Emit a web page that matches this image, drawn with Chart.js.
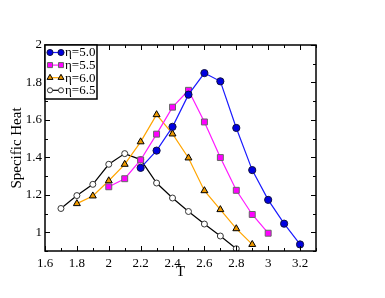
<!DOCTYPE html>
<html>
<head>
<meta charset="utf-8">
<script src="https://cdn.jsdelivr.net/npm/chart.js@4.4.0/dist/chart.umd.min.js"></script>
<style>
  body { margin: 0; background: #fff; }
  canvas { display: block; }
</style>
</head>
<body>
<canvas id="heat-chart" width="385" height="298"></canvas>
<script>
// specific heat vs temperature

var t50 = [2.2, 2.3, 2.4, 2.5, 2.6, 2.7, 2.8, 2.9, 3.0, 3.1, 3.2];
var c50 = [1.344, 1.436, 1.563, 1.735, 1.85, 1.806, 1.557, 1.332, 1.173, 1.046, 0.935];

var t55 = [2.0, 2.1, 2.2, 2.3, 2.4, 2.5, 2.6, 2.7, 2.8, 2.9, 3.0];
var c55 = [1.243, 1.286, 1.386, 1.524, 1.668, 1.758, 1.589, 1.399, 1.224, 1.095, 0.995];

var t60 = [1.8, 1.9, 2.0, 2.1, 2.2, 2.3, 2.4, 2.5, 2.6, 2.7, 2.8, 2.9];
var c60 = [1.153, 1.194, 1.275, 1.363, 1.483, 1.628, 1.525, 1.397, 1.222, 1.121, 1.019, 0.935];

var t65 = [1.7, 1.8, 1.9, 2.0, 2.1, 2.2, 2.3, 2.4, 2.5, 2.6, 2.7, 2.8];
var c65 = [1.127, 1.196, 1.256, 1.363, 1.42, 1.388, 1.263, 1.183, 1.111, 1.044, 0.98, 0.912];

var xTicks = [1.6, 1.8, 2, 2.2, 2.4, 2.6, 2.8, 3, 3.2];
var yTicks = [1, 1.2, 1.4, 1.6, 1.8, 2];

function pts(xs, ys) {
	return xs.map(function (x, i) { return {x: x, y: ys[i]}; });
}

var serif = '"Liberation Serif", "DejaVu Serif", serif';

// inward ticks on all four sides, box, axis titles, legend
var framePlugin = {
	id: 'frame',
	afterDraw: function (chart) {
		var ctx = chart.ctx, a = chart.chartArea;
		var xs = chart.scales.x, ys = chart.scales.y;
		ctx.save();
		ctx.strokeStyle = '#000';
		ctx.lineWidth = 1.5;
		ctx.strokeRect(a.left, a.top, a.right - a.left, a.bottom - a.top);

		ctx.lineWidth = 1;
		ctx.beginPath();
		for (var v = xs.min; v <= xs.max + 1e-6; v += 0.1) {
			var major = Math.abs(v * 5 - Math.round(v * 5)) < 1e-6;
			var len = major ? 5 : 3;
			var px = Math.round(xs.getPixelForValue(v)) + 0.5;
			ctx.moveTo(px, a.bottom); ctx.lineTo(px, a.bottom - len);
			ctx.moveTo(px, a.top); ctx.lineTo(px, a.top + len);
		}
		for (var w = ys.min; w <= ys.max + 1e-6; w += 0.1) {
			var majorY = Math.abs(w * 5 - Math.round(w * 5)) < 1e-6;
			var lenY = majorY ? 5 : 3;
			var py = Math.round(ys.getPixelForValue(w)) + 0.5;
			ctx.moveTo(a.left, py); ctx.lineTo(a.left + lenY, py);
			ctx.moveTo(a.right, py); ctx.lineTo(a.right - lenY, py);
		}
		ctx.stroke();

		// axis titles
		ctx.fillStyle = '#000';
		ctx.font = '15px ' + serif;
		ctx.textAlign = 'center';
		ctx.textBaseline = 'middle';
		ctx.fillText('T', (a.left + a.right) / 2, 272);
		ctx.translate(17, (a.top + a.bottom) / 2);
		ctx.rotate(-Math.PI / 2);
		ctx.fillText('Specific Heat', 0, 0);
		ctx.restore();

		// legend
		ctx.save();
		var lx = a.left, ly = a.top, lw = 52, lh = 54;
		ctx.fillStyle = '#fff';
		ctx.fillRect(lx, ly, lw, lh);
		ctx.strokeStyle = '#000';
		ctx.lineWidth = 1.5;
		ctx.strokeRect(lx, ly, lw, lh);
		chart.data.datasets.forEach(function (ds, i) {
			var cy = ly + 7.5 + i * 12.6;
			ctx.strokeStyle = ds.borderColor;
			ctx.lineWidth = 1.2;
			ctx.beginPath();
			ctx.moveTo(lx + 5, cy); ctx.lineTo(lx + 16, cy);
			ctx.stroke();
			var opt = {
				pointStyle: ds.pointStyle, radius: ds.pointRadius * 0.85, rotation: 0,
				borderWidth: 1
			};
			ctx.fillStyle = ds.pointBackgroundColor;
			ctx.strokeStyle = ds.pointBorderColor;
			ctx.lineWidth = 1;
			Chart.helpers.drawPoint(ctx, opt, lx + 5, cy);
			Chart.helpers.drawPoint(ctx, opt, lx + 16, cy);
			ctx.fillStyle = '#000';
			ctx.font = '13px ' + serif;
			ctx.textAlign = 'left';
			ctx.textBaseline = 'middle';
			ctx.fillText(ds.label, lx + 20, cy + 0.5);
		});
		ctx.restore();
	}
};

new Chart(document.getElementById('heat-chart'), {
	type: 'scatter',
	data: {
		datasets: [{
			label: 'η=5.0',
			data: pts(t50, c50),
			showLine: true,
			borderColor: '#1a1aff',
			borderWidth: 1.2,
			pointStyle: 'circle',
			pointRadius: 3.6,
			pointBackgroundColor: '#0000e0',
			pointBorderColor: '#101040',
			pointBorderWidth: 1
		}, {
			label: 'η=5.5',
			data: pts(t55, c55),
			showLine: true,
			borderColor: '#ff1aff',
			borderWidth: 1.2,
			pointStyle: 'rect',
			pointRadius: 4.2,
			pointBackgroundColor: '#ff00ff',
			pointBorderColor: '#666666',
			pointBorderWidth: 1
		}, {
			label: 'η=6.0',
			data: pts(t60, c60),
			showLine: true,
			borderColor: '#ffa500',
			borderWidth: 1.2,
			pointStyle: 'triangle',
			pointRadius: 4,
			pointBackgroundColor: '#ee9900',
			pointBorderColor: '#000000',
			pointBorderWidth: 1
		}, {
			label: 'η=6.5',
			data: pts(t65, c65),
			showLine: true,
			borderColor: '#000000',
			borderWidth: 1.2,
			pointStyle: 'circle',
			pointRadius: 3,
			pointBackgroundColor: '#ffffff',
			pointBorderColor: '#333333',
			pointBorderWidth: 1
		}]
	},
	options: {
		responsive: false,
		animation: false,
		layout: { padding: { top: 45, right: 69, left: 0, bottom: 0 } },
		plugins: {
			legend: { display: false },
			tooltip: { enabled: false }
		},
		scales: {
			x: {
				type: 'linear',
				min: 1.6,
				max: 3.3,
				afterFit: function (s) { s.height = 47; },
				afterBuildTicks: function (s) { s.ticks = xTicks.map(function (v) { return {value: v}; }); },
				grid: { display: false, drawTicks: false },
				border: { display: false },
				ticks: {
					padding: 5,
					color: '#000',
					font: { family: serif, size: 13 },
					maxRotation: 0,
					callback: function (v) { return String(Number(v.toFixed(1))); }
				}
			},
			y: {
				type: 'linear',
				min: 0.9,
				max: 2,
				afterFit: function (s) { s.width = 45; },
				afterBuildTicks: function (s) { s.ticks = yTicks.map(function (v) { return {value: v}; }); },
				grid: { display: false, drawTicks: false },
				border: { display: false },
				ticks: {
					padding: 3,
					color: '#000',
					font: { family: serif, size: 13 },
					callback: function (v) { return String(Number(v.toFixed(1))); }
				}
			}
		}
	},
	plugins: [framePlugin]
});
</script>
</body>
</html>
